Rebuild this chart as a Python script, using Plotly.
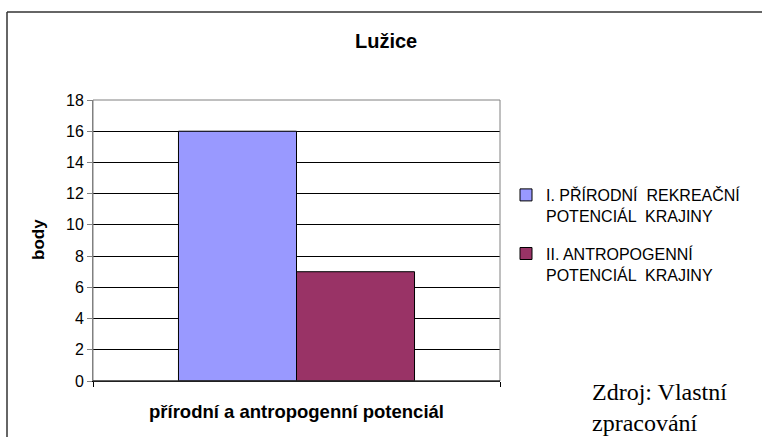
import plotly.graph_objects as go

categories = ["přírodní a antropogenní potenciál"]
series_names = ["I. PŘÍRODNÍ  REKREAČNÍ<br>POTENCIÁL  KRAJINY",
                "II. ANTROPOGENNÍ<br>POTENCIÁL  KRAJINY"]
series_values = [[16], [7]]
series_colors = ["#9999FF", "#993366"]
y_ticks = [0, 2, 4, 6, 8, 10, 12, 14, 16, 18]

W, H = 762, 437
L, R, T, B = 93, 262, 100, 56
pw, ph = W - L - R, H - T - B

def px(x):
    return (x - L) / pw

def py(y):
    return (H - B - y) / ph

fig = go.Figure()
for i, (name, vals, col) in enumerate(zip(series_names, series_values, series_colors)):
    fig.add_trace(go.Bar(x=categories, y=vals, name=name, legendgroup=f"g{i}",
                         marker=dict(color=col, line=dict(color="black", width=1))))

font = "Liberation Sans, Arial, sans-serif"
fig.update_layout(
    width=W, height=H,
    margin=dict(l=L, r=R, t=T, b=B),
    paper_bgcolor="white", plot_bgcolor="white",
    barmode="group", bargap=0.42, bargroupgap=0,
    showlegend=True,
    legend=dict(x=px(506), y=py(178), xanchor="left", yanchor="top",
                font=dict(family=font, size=16, color="black"),
                valign="top", tracegroupgap=14, traceorder="grouped",
                bgcolor="rgba(0,0,0,0)"),
    font=dict(family=font, color="black"),
)
fig.update_yaxes(range=[0, 18], tickvals=y_ticks, showgrid=True, gridcolor="black", gridwidth=1,
                 showline=True, linecolor="#808080", linewidth=1,
                 ticks="outside", ticklen=5, tickcolor="#808080",
                 tickfont=dict(family=font, size=16, color="black"), zeroline=False)
fig.update_xaxes(showticklabels=False, showline=True, linecolor="black", linewidth=1,
                 ticks="outside", tickson="boundaries", ticklen=5, tickcolor="black")

# plot border
fig.add_shape(type="rect", xref="paper", yref="paper", x0=0, x1=1, y0=0, y1=1,
              line=dict(color="#808080", width=1), layer="above")
fig.add_shape(type="line", xref="paper", yref="paper", x0=0, x1=1, y0=0, y1=0,
              line=dict(color="black", width=1), layer="above")
# outer frame
fig.add_shape(type="line", xref="paper", yref="paper", x0=px(7), x1=px(770), y0=py(12), y1=py(12),
              line=dict(color="#333333", width=1.5))
fig.add_shape(type="line", xref="paper", yref="paper", x0=px(7), x1=px(7), y0=py(12), y1=py(445),
              line=dict(color="#333333", width=1.5))

def ann(text, x, y, size, fam=font, xanchor="center", angle=0):
    fig.add_annotation(text=text, xref="paper", yref="paper", x=px(x), y=py(y),
                       xanchor=xanchor, yanchor="middle", showarrow=False, textangle=angle,
                       font=dict(family=fam, size=size, color="black"))

ann("<b>Lužice</b>", 386, 41, 20)
ann("<b>body</b>", 38, 240, 17, angle=-90)
ann("<b>přírodní a antropogenní potenciál</b>", 296, 411, 18.5)
serif = "Liberation Serif, Times New Roman, serif"
ann("Zdroj: Vlastní", 590, 392, 24, fam=serif, xanchor="left")
ann("zpracování", 590, 423, 24, fam=serif, xanchor="left")

fig.write_html("out.html", config={"displayModeBar": False},
               post_script="document.body.style.margin='0';document.body.style.padding='0';")
